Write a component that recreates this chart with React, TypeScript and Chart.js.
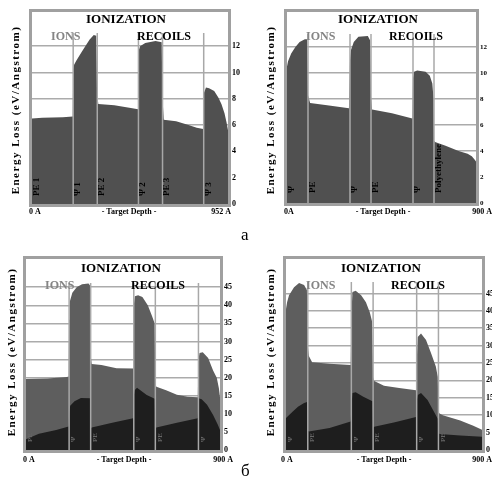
import React, { useEffect, useRef } from "react";
import { Chart, registerables } from "chart.js";

Chart.register(...registerables);

// ---------------- DATA ----------------
// Panel "а", left: PE / Ψ multilayer, 952 Å
const aLeftBounds = [0, 200, 317, 517, 634, 834, 952];
const aLeftLayers = ["PE 1", "Ψ 1", "PE 2", "Ψ 2", "PE 3", "Ψ 3"];
const aLeftDepth = [0, 50, 150, 198, 200, 205, 215, 235, 255, 280, 300, 312, 316, 322, 400, 480, 515, 517, 525, 550, 600, 630, 634, 640, 700, 760, 800, 832, 834, 845, 860, 885, 905, 920, 935, 945, 952];
const aLeftLoss = [6.5, 6.55, 6.6, 6.65, 10.2, 10.6, 10.9, 11.4, 11.9, 12.5, 12.85, 12.8, 8.5, 7.6, 7.5, 7.3, 7.2, 11.6, 12.0, 12.25, 12.4, 12.3, 8.0, 6.4, 6.3, 6.0, 5.8, 5.7, 8.4, 8.85, 8.8, 8.6, 8.1, 7.6, 6.9, 6.2, 5.6];

// Panel "а", right: Ψ / PE multilayer on polyethylene, 900 Å
const aRightBounds = [0, 100, 300, 400, 600, 700, 900];
const aRightLayers = ["Ψ", "PE", "Ψ", "PE", "Ψ", "Polyethylene"];
const aRightDepth = [0, 5, 20, 40, 60, 85, 96, 100, 110, 200, 295, 300, 305, 318, 340, 385, 396, 400, 405, 500, 597, 600, 605, 620, 660, 680, 692, 698, 700, 705, 755, 817, 860, 880, 895, 900];
const aRightLoss = [10.5, 10.9, 11.5, 12.0, 12.4, 12.6, 12.6, 8.3, 7.7, 7.5, 7.3, 11.0, 11.8, 12.4, 12.8, 12.85, 12.5, 8.2, 7.2, 6.9, 6.5, 9.6, 10.1, 10.2, 10.1, 9.8, 9.2, 8.0, 4.8, 4.7, 4.4, 4.0, 3.8, 3.6, 3.3, 3.2];

const aTicks = [0, 2, 4, 6, 8, 10, 12];

// Panel "б", left: PE / Ψ multilayer, 900 Å (total + lower component)
const bLeftBounds = [0, 200, 300, 500, 600, 800, 900];
const bLeftLayers = ["PE", "Ψ", "PE", "Ψ", "PE", "Ψ"];
const bLeftDepth = [0, 100, 190, 198, 200, 203, 215, 235, 260, 290, 297, 300, 305, 350, 420, 497, 500, 505, 520, 540, 565, 585, 597, 600, 605, 650, 700, 750, 797, 800, 805, 820, 845, 868, 885, 895, 900];
const bLeftLoss = [19.6, 19.8, 20.2, 20.3, 36, 41, 43.5, 45, 45.8, 46, 45.5, 26, 23.8, 23.5, 22.6, 22.5, 40, 42.5, 42.8, 42.3, 40, 37, 35, 18, 17.5, 16.5, 15.3, 14.7, 14.6, 25, 26.8, 27, 25.4, 22, 20, 17, 14.5];
const bLeftLowDepth = [0, 60, 140, 198, 200, 205, 225, 255, 297, 300, 305, 400, 497, 500, 505, 515, 560, 597, 600, 605, 700, 797, 800, 815, 840, 868, 890, 900];
const bLeftLowLoss = [3, 4.5, 5.5, 6.5, 10, 12.2, 13.5, 14.4, 14.3, 6, 6.2, 7.5, 8.8, 15, 16.6, 17.2, 15.2, 14.2, 6, 6.2, 7.5, 8.8, 14.3, 14, 12.5, 9.7, 7, 5.5];

// Panel "б", right: Ψ / PE multilayer, 900 Å (total + lower component)
const bRightBounds = [0, 100, 300, 400, 600, 700, 900];
const bRightLayers = ["Ψ", "PE", "Ψ", "PE", "Ψ", "PE"];
const bRightDepth = [0, 5, 14, 37, 60, 83, 96, 100, 105, 120, 200, 297, 300, 305, 320, 345, 367, 385, 395, 400, 405, 450, 520, 597, 600, 605, 620, 643, 665, 688, 697, 700, 705, 720, 800, 860, 900];
const bRightLoss = [40.5, 42.5, 44.5, 46.8, 48, 47.4, 46, 30, 27, 25.2, 24.8, 24.4, 38, 45.4, 45.8, 44.5, 42.5, 39.5, 37, 21, 19.8, 18.5, 17.8, 17.2, 25, 32.5, 33.5, 31.6, 28, 24, 21, 11, 10.5, 10, 8.5, 7, 5.8];
const bRightLowDepth = [0, 30, 55, 83, 97, 100, 105, 200, 297, 300, 305, 320, 355, 397, 400, 405, 500, 597, 600, 605, 620, 650, 675, 697, 700, 705, 800, 900];
const bRightLowLoss = [9.2, 11, 12.4, 13.5, 13.8, 5.5, 5.3, 6.3, 8.2, 12, 16.4, 16.6, 15.3, 14, 6.5, 6.7, 8, 9.5, 14, 15.8, 16.4, 14.4, 11.5, 9, 5, 4.6, 4.2, 3.8];

const bTicks = [0, 5, 10, 15, 20, 25, 30, 35, 40, 45];

// ---------------- STYLE / LAYOUT ----------------
const SERIF = '"Liberation Serif", "DejaVu Serif", "Times New Roman", serif';

type PanelCfg = {
  x: number; y: number; w: number; h: number;
  area: { l: number; t: number; r: number; b: number };
  yMax: number; ticks: number[]; tickSize: number;
  depth: number[]; loss: number[]; lowDepth?: number[]; lowLoss?: number[];
  bounds: number[]; layers: string[];
  fill: string; lowFill?: string;
  endLabel: string; zeroLabel: string;
  titleX: number; titleY: number; ionsX: number; recoilsX: number; subY: number;
  yTitleX: number; yTitleY: number;
  xLabY: number; zeroX: number; depthX: number; endX: number;
  guideTop: number; labelOff: number; labelSize: number; labelColor: string;
};

const panels: PanelCfg[] = [
  {
    x: 0, y: 0, w: 246, h: 230, area: { l: 32, t: 12, r: 228, b: 204 },
    yMax: 14.6, ticks: aTicks, tickSize: 8,
    depth: aLeftDepth, loss: aLeftLoss, bounds: aLeftBounds, layers: aLeftLayers,
    fill: "#505050", endLabel: "952 A", zeroLabel: "0 A",
    titleX: 126, titleY: 23, ionsX: 51, recoilsX: 137, subY: 40,
    yTitleX: 16, yTitleY: 110, xLabY: 214, zeroX: 29, depthX: 129, endX: 231,
    guideTop: 33, labelOff: 8, labelSize: 9, labelColor: "#000",
  },
  {
    x: 246, y: 0, w: 246, h: 230, area: { l: 41, t: 12, r: 230, b: 203 },
    yMax: 14.7, ticks: aTicks, tickSize: 7,
    depth: aRightDepth, loss: aRightLoss, bounds: aRightBounds, layers: aRightLayers,
    fill: "#505050", endLabel: "900 A", zeroLabel: "0A",
    titleX: 132, titleY: 23, ionsX: 60, recoilsX: 143, subY: 40,
    yTitleX: 25, yTitleY: 110, xLabY: 214, zeroX: 38, depthX: 137, endX: 246,
    guideTop: 34, labelOff: 10, labelSize: 9, labelColor: "#000",
  },
  {
    x: 0, y: 230, w: 246, h: 254, area: { l: 26, t: 29, r: 220, b: 220 },
    yMax: 52.8, ticks: bTicks, tickSize: 8,
    depth: bLeftDepth, loss: bLeftLoss, lowDepth: bLeftLowDepth, lowLoss: bLeftLowLoss,
    bounds: bLeftBounds, layers: bLeftLayers,
    fill: "#5e5e5e", lowFill: "#1e1e1e", endLabel: "900 A", zeroLabel: "0 A",
    titleX: 121, titleY: 42, ionsX: 45, recoilsX: 131, subY: 59,
    yTitleX: 12, yTitleY: 122, xLabY: 232, zeroX: 23, depthX: 124, endX: 233,
    guideTop: 53, labelOff: 8, labelSize: 7, labelColor: "#666",
  },
  {
    x: 246, y: 230, w: 246, h: 254, area: { l: 40, t: 29, r: 236, b: 220 },
    yMax: 54.9, ticks: bTicks, tickSize: 8,
    depth: bRightDepth, loss: bRightLoss, lowDepth: bRightLowDepth, lowLoss: bRightLowLoss,
    bounds: bRightBounds, layers: bRightLayers,
    fill: "#5e5e5e", lowFill: "#1e1e1e", endLabel: "900 A", zeroLabel: "0 A",
    titleX: 135, titleY: 42, ionsX: 60, recoilsX: 145, subY: 59,
    yTitleX: 25, yTitleY: 122, xLabY: 232, zeroX: 35, depthX: 138, endX: 246,
    guideTop: 52, labelOff: 8, labelSize: 7, labelColor: "#666",
  },
];

function zip(xs: number[], ys: number[]) {
  return xs.map((x, i) => ({ x, y: ys[i] }));
}

function Panel({ cfg }: { cfg: PanelCfg }) {
  const ref = useRef<HTMLCanvasElement>(null);
  useEffect(() => {
    const canvas = ref.current!;
    const overlay = {
      id: "srimOverlay",
      afterDraw(chart: any) {
        const { ctx, chartArea: a, scales } = chart;
        const xs = scales.x;
        ctx.save();
        // layer boundary guides
        ctx.strokeStyle = "#a8a8a8";
        ctx.lineWidth = 1.5;
        cfg.bounds.slice(1, -1).forEach((d) => {
          const px = xs.getPixelForValue(d);
          ctx.beginPath();
          ctx.moveTo(px, cfg.guideTop);
          ctx.lineTo(px, a.bottom);
          ctx.stroke();
        });
        // layer names (vertical)
        ctx.fillStyle = cfg.labelColor;
        ctx.font = `bold ${cfg.labelSize}px ${SERIF}`;
        ctx.textAlign = "left";
        ctx.textBaseline = "middle";
        cfg.layers.forEach((name, i) => {
          const px = xs.getPixelForValue(cfg.bounds[i]) + 4.5;
          ctx.save();
          ctx.translate(px, a.bottom - cfg.labelOff);
          ctx.rotate(-Math.PI / 2);
          ctx.fillText(name, 0, 0);
          ctx.restore();
        });
        // frame
        ctx.strokeStyle = "#a0a0a0";
        ctx.lineWidth = 3;
        ctx.strokeRect(a.left - 1.5, a.top - 1.5, a.right - a.left + 3, a.bottom - a.top + 3);
        // titles
        ctx.fillStyle = "#000";
        ctx.textBaseline = "alphabetic";
        ctx.font = `bold 13px ${SERIF}`;
        ctx.textAlign = "center";
        ctx.fillText("IONIZATION", cfg.titleX, cfg.titleY);
        ctx.font = `bold 12px ${SERIF}`;
        ctx.textAlign = "left";
        ctx.fillStyle = "#858585";
        ctx.fillText("IONS", cfg.ionsX, cfg.subY);
        ctx.fillStyle = "#000";
        ctx.fillText("RECOILS", cfg.recoilsX, cfg.subY);
        // y title
        ctx.save();
        ctx.translate(cfg.yTitleX, cfg.yTitleY);
        ctx.rotate(-Math.PI / 2);
        ctx.font = `bold 11px ${SERIF}`;
        (ctx as any).letterSpacing = "1.5px";
        ctx.textAlign = "center";
        ctx.textBaseline = "middle";
        ctx.fillText("Energy Loss (eV/Angstrom)", 0, 0);
        ctx.restore();
        // x labels
        ctx.font = `bold 8px ${SERIF}`;
        ctx.textAlign = "left";
        ctx.fillText(cfg.zeroLabel, cfg.zeroX, cfg.xLabY);
        ctx.textAlign = "center";
        ctx.fillText("- Target Depth -", cfg.depthX, cfg.xLabY);
        ctx.textAlign = "right";
        ctx.fillText(cfg.endLabel, cfg.endX, cfg.xLabY);
        ctx.restore();
      },
    };

    const datasets: any[] = [];
    if (cfg.lowDepth && cfg.lowLoss) {
      datasets.push({
        data: zip(cfg.lowDepth, cfg.lowLoss),
        fill: "origin",
        backgroundColor: cfg.lowFill,
        borderWidth: 0,
        pointRadius: 0,
        tension: 0,
        order: 0,
      });
    }
    datasets.push({
      data: zip(cfg.depth, cfg.loss),
      fill: "origin",
      backgroundColor: cfg.fill,
      borderWidth: 0,
      pointRadius: 0,
      tension: 0,
      order: 1,
    });

    const chart = new Chart(canvas, {
      type: "line",
      data: { datasets },
      options: {
        animation: false,
        responsive: false,
        devicePixelRatio: 1,
        events: [],
        layout: {
          padding: { left: cfg.area.l, top: cfg.area.t, right: 0, bottom: cfg.h - cfg.area.b },
        },
        plugins: { legend: { display: false }, tooltip: { enabled: false } },
        scales: {
          x: {
            type: "linear",
            min: 0,
            max: cfg.bounds[cfg.bounds.length - 1],
            display: false,
          },
          y: {
            type: "linear",
            position: "right",
            min: 0,
            max: cfg.yMax,
            z: 1,
            afterBuildTicks: (s: any) => {
              s.ticks = cfg.ticks.map((v) => ({ value: v }));
            },
            afterFit: (s: any) => {
              s.width = cfg.w - cfg.area.r;
            },
            grid: { color: "#ababab", lineWidth: 1.5, drawTicks: false },
            border: { display: false },
            ticks: {
              color: "#000",
              padding: 4,
              font: { family: SERIF, size: cfg.tickSize, weight: "bold" },
            },
          },
        },
      } as any,
      plugins: [overlay],
    });
    return () => chart.destroy();
  }, [cfg]);
  return (
    <canvas
      ref={ref}
      width={cfg.w}
      height={cfg.h}
      style={{ position: "absolute", left: cfg.x, top: cfg.y, width: cfg.w, height: cfg.h }}
    />
  );
}

export default function App() {
  return (
    <div
      style={{
        position: "absolute",
        left: 0,
        top: 0,
        width: 492,
        height: 484,
        background: "#fff",
        overflow: "hidden",
      }}
    >
      {panels.map((p, i) => (
        <Panel key={i} cfg={p} />
      ))}
      <div style={{ position: "absolute", left: 241, top: 225, fontFamily: SERIF, fontSize: 17, lineHeight: "20px" }}>а</div>
      <div style={{ position: "absolute", left: 241, top: 461, fontFamily: SERIF, fontSize: 17, lineHeight: "20px" }}>б</div>
    </div>
  );
}
